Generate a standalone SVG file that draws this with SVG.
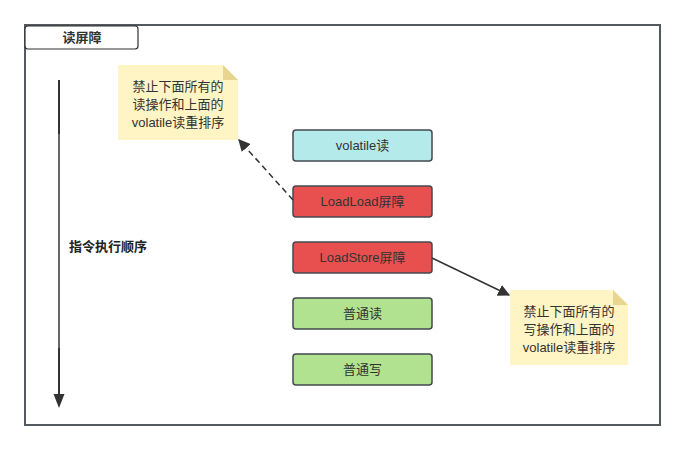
<svg xmlns="http://www.w3.org/2000/svg" width="685" height="451" viewBox="0 0 685 451">
  <style>
    text { font-family: "Liberation Sans", "Noto Sans CJK SC", sans-serif; font-size: 13px; fill: #333333; text-anchor: middle; }
    .frame { fill: #ffffff; stroke: #54595e; stroke-width: 2; }
    .box { stroke: #444a4f; stroke-width: 1.5; }
    .note { fill: #fff4c3; }
    .fold { fill: #e8d58f; }
    .bold { font-weight: bold; }
  </style>
  <defs>
    <marker id="arrowBig" viewBox="0 0 10 10" refX="9" refY="5" markerWidth="12" markerHeight="12" markerUnits="userSpaceOnUse" orient="auto">
      <path d="M0,0 L10,5 L0,10 z" fill="#333333"/>
    </marker>
  </defs>

  <rect x="0" y="0" width="685" height="451" fill="#ffffff"/>

  <!-- outer frame -->
  <g id="frame">
    <rect class="frame" x="25" y="25" width="635" height="400"/>
    <rect x="25" y="26" width="113" height="23" rx="3" fill="#ffffff" stroke="#333333" stroke-width="1.2"/>
    <text class="bold" x="82" y="42" font-size="12">读屏障</text>
  </g>

  <!-- execution order axis -->
  <g id="order">
    <line x1="59" y1="80" x2="59" y2="134" stroke="#333333" stroke-width="2"/>
    <line x1="59" y1="134" x2="59" y2="348" stroke="#666666" stroke-width="2"/>
    <line x1="59" y1="348" x2="59" y2="396" stroke="#333333" stroke-width="2"/>
    <path d="M53.5,394 L64.5,394 L59,408 z" fill="#333333"/>
    <text x="108" y="251" fill="#222222" style="fill:#222222;font-weight:600">指令执行顺序</text>
  </g>

  <!-- note above -->
  <g id="note-load">
    <path class="note" d="M118,65 L223,65 L238,80 L238,140 L118,140 z"/>
    <path class="fold" d="M223,65 L238,80 L223,80 z"/>
    <text x="178" y="91">禁止下面所有的</text>
    <text x="178" y="109">读操作和上面的</text>
    <text x="178" y="127">volatile读重排序</text>
  </g>

  <!-- note below -->
  <g id="note-store">
    <path class="note" d="M510,290 L613,290 L628,305 L628,365 L510,365 z"/>
    <path class="fold" d="M613,290 L628,305 L613,305 z"/>
    <text x="569" y="316">禁止下面所有的</text>
    <text x="569" y="334">写操作和上面的</text>
    <text x="569" y="352">volatile读重排序</text>
  </g>

  <!-- instruction boxes -->
  <g id="volatile-read">
    <rect class="box" x="293" y="130" width="139" height="31" rx="3" fill="#b5eaea"/>
    <text x="362.5" y="150">volatile读</text>
  </g>
  <g id="loadload">
    <rect class="box" x="293" y="186" width="139" height="31" rx="3" fill="#e85050"/>
    <text x="362.5" y="206">LoadLoad屏障</text>
  </g>
  <g id="loadstore">
    <rect class="box" x="293" y="242" width="139" height="31" rx="3" fill="#e85050"/>
    <text x="362.5" y="262">LoadStore屏障</text>
  </g>
  <g id="normal-read">
    <rect class="box" x="293" y="298" width="139" height="31" rx="3" fill="#b1e28f"/>
    <text x="362.5" y="318">普通读</text>
  </g>
  <g id="normal-write">
    <rect class="box" x="293" y="354" width="139" height="31" rx="3" fill="#b1e28f"/>
    <text x="362.5" y="374">普通写</text>
  </g>

  <!-- connectors -->
  <g id="connectors" fill="none" stroke="#333333" stroke-width="1.5">
    <line x1="293" y1="200" x2="239" y2="140" stroke-dasharray="6,4" marker-end="url(#arrowBig)"/>
    <line x1="432" y1="258" x2="509" y2="295" marker-end="url(#arrowBig)"/>
  </g>
</svg>
